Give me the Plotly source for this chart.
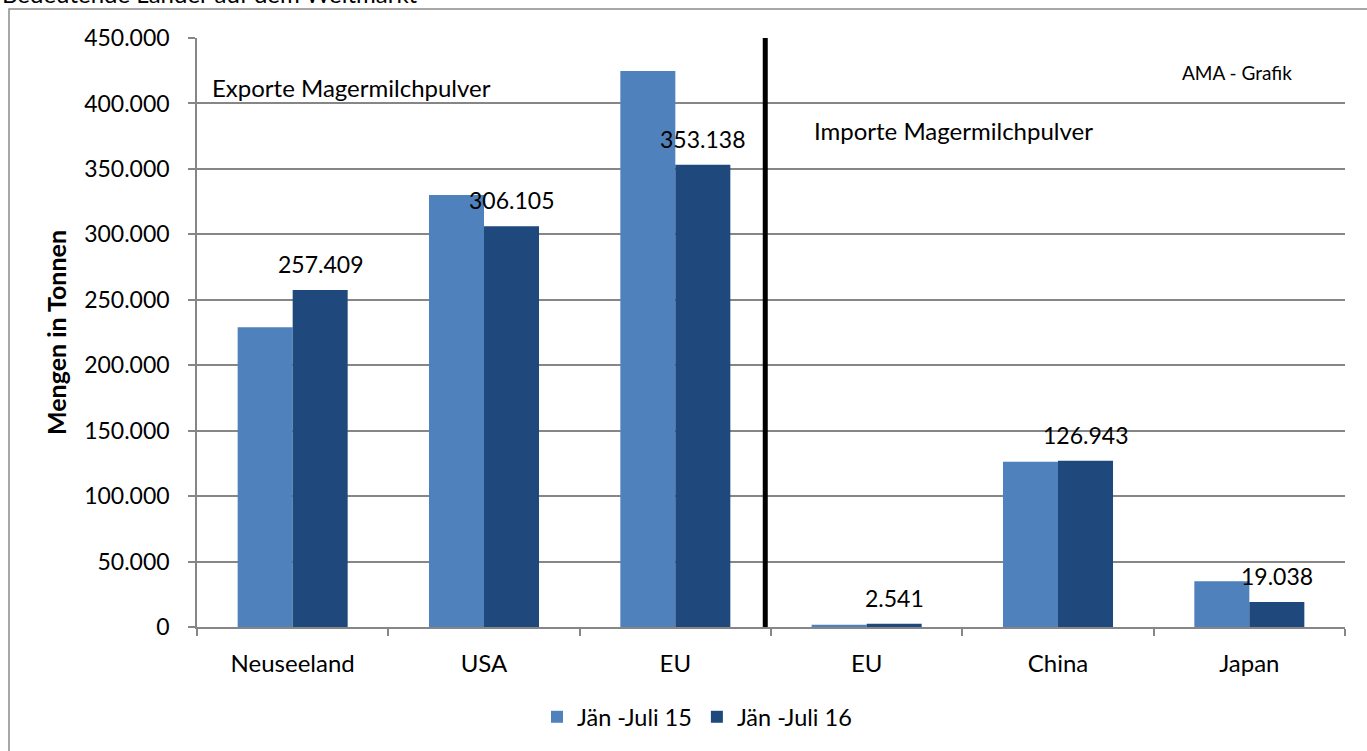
"""
Magermilchpulver - Exporte und Importe bedeutender Länder
"""

import plotly.graph_objects as go


# ==========================================================
# Data
# ==========================================================

categories = ["Neuseeland", "USA", "EU", "EU", "China", "Japan"]

series_names = ["Jän -Juli 15", "Jän -Juli 16"]

values_15 = [229000, 330000, 424800, 1800, 126200, 35000]

values_16 = [257409, 306105, 353138, 2541, 126943, 19038]

y_ticks = [0, 50000, 100000, 150000, 200000, 250000, 300000, 350000, 400000, 450000]

colors = ["#4F81BD", "#1F497D"]

FONT = "Lato, 'Open Sans', sans-serif"


def fmt(v):
    return f"{v:,}".replace(",", ".")


# ==========================================================
# Figure
# ==========================================================

x_pos = list(range(len(categories)))

fig = go.Figure()

for name, vals, col in zip(series_names, [values_15, values_16], colors):
    fig.add_trace(
        go.Bar(
            x=x_pos,
            y=vals,
            name=name,
            marker=dict(color=col, line=dict(width=0)),
        )
    )

bargap = 0.425
half_bar = (1 - bargap) / 4

# data labels for the 2016 series
for i, v in enumerate(values_16):
    fig.add_annotation(
        x=i + half_bar,
        y=v,
        text=fmt(v),
        showarrow=False,
        yanchor="middle",
        yshift=26,
        font=dict(size=23, color="#000000", family=FONT),
    )

# section texts
fig.add_annotation(
    x=(210 - 197) / 1148, y=(627 - 87) / 589,
    xref="paper", yref="paper",
    text="Exporte Magermilchpulver",
    showarrow=False, xanchor="left", yanchor="middle",
    font=dict(size=24, color="#000000", family=FONT),
)
fig.add_annotation(
    x=(812 - 197) / 1148, y=(627 - 130) / 589,
    xref="paper", yref="paper",
    text="Importe Magermilchpulver",
    showarrow=False, xanchor="left", yanchor="middle",
    font=dict(size=24, color="#000000", family=FONT),
)
fig.add_annotation(
    x=(1237 - 197) / 1148, y=(627 - 72) / 589,
    xref="paper", yref="paper",
    text="AMA - Grafik",
    showarrow=False, xanchor="center", yanchor="middle",
    font=dict(size=19, color="#000000", family=FONT),
)

# chart title, cut off at the top edge as in the source image
fig.add_annotation(
    x=(0 - 197) / 1148, y=(627 - 10) / 589,
    xref="paper", yref="paper",
    text="Bedeutende Länder auf dem Weltmarkt",
    showarrow=False, xanchor="left", yanchor="bottom",
    font=dict(size=24, color="#000000", family=FONT),
)

# separator line between exports and imports
fig.add_shape(
    type="line",
    x0=2.47, x1=2.47,
    y0=-7600, y1=452300,
    xref="x", yref="y",
    line=dict(color="#000000", width=5),
)

# outer chart border
fig.add_shape(
    type="rect",
    x0=(9 - 197) / 1148, x1=1.2,
    y0=-0.4, y1=(627 - 9) / 589,
    xref="paper", yref="paper",
    line=dict(color="#8C8C8C", width=1.5),
    layer="below",
)

fig.update_layout(
    width=1367,
    height=751,
    barmode="group",
    bargap=bargap,
    bargroupgap=0,
    separators=",.",
    plot_bgcolor="white",
    paper_bgcolor="white",
    font=dict(family=FONT, size=22, color="#000000"),
    margin=dict(l=197, r=22, t=38, b=124, autoexpand=False),
    showlegend=True,
    legend=dict(
        orientation="h",
        x=(697 - 197) / 1148,
        xanchor="center",
        y=(627 - 717) / 589,
        yanchor="middle",
        font=dict(size=23.5, family=FONT),
        itemwidth=30,
        traceorder="normal",
    ),
    xaxis=dict(
        range=[-0.5, 5.5],
        tickmode="array",
        tickvals=x_pos,
        ticktext=categories,
        ticks="",
        tickfont=dict(size=24, family=FONT),
        ticklabelstandoff=14,
        showline=True,
        linecolor="#868686",
        linewidth=1.5,
        showgrid=False,
        zeroline=False,
        minor=dict(
            tickmode="array",
            tickvals=[i - 0.5 for i in range(len(categories) + 1)],
            ticks="outside",
            ticklen=7,
            tickcolor="#868686",
            tickwidth=1.5,
            showgrid=False,
        ),
    ),
    yaxis=dict(
        range=[0, 450000],
        tickmode="array",
        tickvals=y_ticks,
        ticktext=[fmt(t) for t in y_ticks],
        ticks="outside",
        ticklen=7,
        tickcolor="#868686",
        tickwidth=1.5,
        tickfont=dict(size=23, family=FONT),
        ticklabelstandoff=14,
        showline=True,
        linecolor="#868686",
        linewidth=1.5,
        showgrid=True,
        gridcolor="#868686",
        gridwidth=1.5,
        zeroline=False,
        title=dict(
            text="<b>Mengen in Tonnen</b>",
            standoff=10,
            font=dict(size=25, family=FONT),
        ),
    ),
)

fig.write_html(
    "out.html",
    config={"displayModeBar": False},
    post_script="document.body.style.margin = '0px';",
)
